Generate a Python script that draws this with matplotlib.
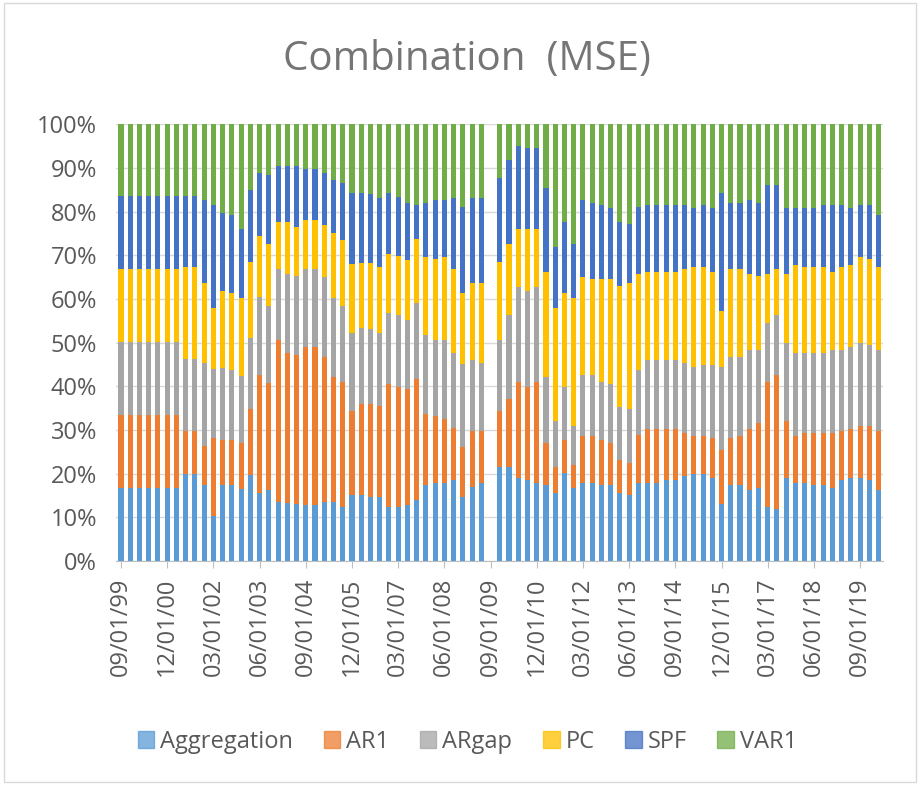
import numpy as np
import matplotlib
matplotlib.use("Agg")
import matplotlib.pyplot as plt
from matplotlib.patches import Rectangle, Patch

plt.rcParams['font.family'] = ['Open Sans', 'DejaVu Sans']

# Trimestres: 09/1999 ... 03/2020 (83 barras); 09/01/09 sin datos
fechas = [f"{m:02d}/01/{(a % 100):02d}"
          for a in range(1999, 2021) for m in (3, 6, 9, 12)][2:85]

etiquetas = ["09/01/99", "12/01/00", "03/01/02", "06/01/03", "09/01/04",
             "12/01/05", "03/01/07", "06/01/08", "09/01/09", "12/01/10",
             "03/01/12", "06/01/13", "09/01/14", "12/01/15", "03/01/17",
             "06/01/18", "09/01/19"]

series = ["Aggregation", "AR1", "ARgap", "PC", "SPF", "VAR1"]
colores = ["#5B9BD5", "#ED7D31", "#A5A5A5", "#FFC000", "#4472C4", "#70AD47"]

aggregation = [16.7, 16.7, 16.7, 16.7, 16.7, 16.7, 16.7, 20.0, 20.0, 17.3,
               10.2, 17.3, 17.3, 16.5, 19.7, 15.6, 16.2, 13.5, 13.2, 13.0,
               12.8, 12.8, 13.4, 13.4, 12.4, 15.1, 15.1, 14.7, 14.7, 12.4,
               12.4, 12.8, 13.9, 17.4, 17.9, 17.9, 18.5, 14.7, 16.9, 17.9,
               0.0, 21.4, 21.4, 19.1, 18.5, 17.9, 17.3, 15.6, 20.2, 16.8,
               17.9, 17.9, 17.3, 17.3, 15.6, 15.1, 17.9, 17.9, 17.9, 18.5,
               18.5, 19.5, 20.0, 20.0, 19.1, 13.0, 17.3, 17.3, 16.2, 16.8,
               12.4, 11.8, 19.1, 17.9, 17.9, 17.3, 17.3, 16.8, 18.5, 19.1,
               19.1, 18.5, 16.2]
ar1 = [16.7, 16.7, 16.7, 16.7, 16.7, 16.7, 16.7, 9.8, 9.8, 9.0,
       17.9, 10.3, 10.3, 10.6, 15.0, 27.0, 24.6, 37.0, 34.5, 34.2,
       36.2, 36.2, 33.3, 28.7, 28.6, 19.3, 20.9, 21.3, 20.8, 28.1,
       27.4, 26.5, 27.7, 16.3, 15.3, 14.7, 11.9, 11.3, 12.9, 11.9,
       0.0, 13.0, 15.8, 21.9, 21.3, 23.1, 9.8, 5.8, 7.4, 5.1,
       10.7, 10.7, 10.3, 9.8, 7.5, 7.4, 10.9, 12.4, 12.4, 11.8,
       11.8, 9.7, 8.6, 8.6, 9.0, 12.3, 10.8, 11.3, 14.1, 14.7,
       28.6, 30.9, 13.0, 10.7, 11.3, 11.9, 11.9, 12.4, 11.3, 11.2,
       11.8, 12.4, 13.6]
argap = [16.7, 16.7, 16.7, 16.7, 16.7, 16.7, 16.7, 16.4, 16.4, 19.1,
         15.8, 16.5, 16.1, 15.2, 16.4, 17.9, 17.6, 16.3, 18.1, 18.1,
         17.8, 17.8, 18.4, 18.2, 17.4, 17.9, 17.4, 17.1, 16.8, 16.2,
         16.5, 16.0, 17.4, 18.1, 17.3, 17.9, 17.3, 19.0, 16.2, 15.6,
         0.0, 16.1, 19.1, 21.8, 22.0, 21.8, 15.0, 10.7, 12.2, 9.0,
         14.1, 14.1, 13.4, 13.4, 12.2, 12.4, 14.9, 15.7, 15.7, 15.7,
         15.7, 16.2, 15.8, 16.3, 16.8, 19.1, 18.6, 18.1, 18.0, 16.8,
         13.6, 13.6, 17.9, 19.1, 18.5, 18.5, 18.5, 19.1, 18.5, 18.6,
         19.1, 18.5, 18.5]
pc = [16.7, 16.7, 16.7, 16.7, 16.7, 16.7, 16.7, 21.1, 21.1, 18.2,
      14.0, 17.7, 17.6, 17.9, 17.4, 13.9, 14.1, 10.8, 11.8, 11.2,
      11.3, 11.3, 11.8, 14.9, 15.1, 15.8, 14.8, 15.1, 15.1, 13.7,
      13.5, 13.6, 14.7, 17.8, 18.6, 19.1, 19.2, 16.3, 17.6, 18.2,
      0.0, 18.0, 16.2, 13.2, 14.2, 13.2, 24.2, 25.8, 21.5, 29.3,
      22.4, 21.8, 23.5, 24.0, 27.7, 28.7, 22.1, 20.3, 20.3, 20.3,
      20.3, 21.4, 22.9, 22.4, 21.4, 12.9, 20.1, 20.1, 17.5, 17.0,
      11.2, 10.6, 15.8, 20.2, 19.7, 19.7, 19.7, 18.0, 19.1, 19.0,
      19.6, 19.7, 19.1]
spf = [16.7, 16.7, 16.7, 16.7, 16.7, 16.7, 16.7, 16.3, 16.3, 19.0,
       23.6, 18.0, 17.9, 15.8, 16.4, 14.5, 15.9, 12.9, 12.9, 14.0,
       11.7, 11.7, 11.9, 12.0, 13.0, 16.3, 16.2, 15.8, 15.8, 14.0,
       13.6, 13.2, 7.8, 12.5, 13.5, 13.0, 16.3, 19.8, 19.6, 19.6,
       0.0, 19.3, 19.3, 19.0, 18.5, 18.5, 19.2, 14.1, 16.3, 12.3,
       17.5, 17.6, 17.0, 16.4, 14.6, 13.5, 15.3, 15.2, 15.2, 15.2,
       15.2, 14.7, 13.6, 14.2, 14.6, 27.1, 15.3, 15.3, 16.8, 16.8,
       20.3, 19.2, 15.1, 13.0, 13.5, 13.5, 14.1, 15.2, 14.1, 13.0,
       11.9, 12.4, 11.8]
var1 = [16.5, 16.5, 16.5, 16.5, 16.5, 16.5, 16.5, 16.4, 16.4, 17.4,
        18.5, 20.2, 20.8, 24.0, 15.1, 11.1, 11.6, 9.5, 9.5, 9.5,
        10.2, 10.2, 11.2, 12.8, 13.5, 15.6, 15.6, 16.0, 16.8, 15.6,
        16.6, 17.9, 18.5, 17.9, 17.4, 17.4, 16.8, 18.9, 16.8, 16.8,
        0.0, 12.2, 8.2, 5.0, 5.5, 5.5, 14.5, 28.0, 22.4, 27.5,
        17.4, 17.9, 18.5, 19.1, 22.4, 22.9, 18.9, 18.5, 18.5, 18.5,
        18.5, 18.5, 19.1, 18.5, 19.1, 15.6, 17.9, 17.9, 17.4, 17.9,
        13.9, 13.9, 19.1, 19.1, 19.1, 19.1, 18.5, 18.5, 18.5, 19.1,
        18.5, 18.5, 20.8]

datos = np.array([aggregation, ar1, argap, pc, spf, var1])
totales = datos.sum(axis=0)
totales[totales == 0] = 1
datos = datos / totales  # 100% apilado

x = np.arange(len(fechas))

fig = plt.figure(figsize=(9.2, 7.85), dpi=100)
ax = fig.add_axes([0.1265, 0.2855, 0.8335, 0.556])

abajo = np.zeros(len(fechas))
for nombre, col, fila in zip(series, colores, datos):
    ax.bar(x, fila, bottom=abajo, width=0.55, color=col, linewidth=0, label=nombre, zorder=3)
    abajo = abajo + fila

ax.set_xlim(-0.5, len(fechas) - 0.5)
ax.set_ylim(0, 1)
ax.set_yticks(np.arange(0, 1.01, 0.1))
ax.set_yticklabels([f"{int(round(v*100))}%" for v in np.arange(0, 1.01, 0.1)])
ax.yaxis.grid(True, color="#D9D9D9", linewidth=1, zorder=0)
ax.tick_params(axis='y', length=0, labelsize=17, labelcolor="#595959", pad=14)

pos = [fechas.index(e) for e in etiquetas]
ax.set_xticks(pos)
ax.set_xticklabels(etiquetas, rotation=90)
ax.tick_params(axis='x', length=5, color="#BFBFBF", labelsize=17, labelcolor="#595959", pad=7)

for lado in ['top', 'right', 'left']:
    ax.spines[lado].set_visible(False)
ax.spines['bottom'].set_color("#BFBFBF")

fig.text(0.508, 0.924, "Combination  (MSE)", ha='center', va='center', fontsize=29, color="#757575")

manijas = [Patch(facecolor=c, edgecolor=c, alpha=0.75) for c in colores]
fig.legend(manijas, series, loc='center', bbox_to_anchor=(0.508, 0.055), ncol=6,
           frameon=False, fontsize=17, labelcolor="#595959", handlelength=0.7,
           handleheight=0.7, handletextpad=0.25, columnspacing=1.3)

fig.patches.append(Rectangle((0.004, 0.004), 0.992, 0.992, transform=fig.transFigure,
                             fill=False, edgecolor="#D9D9D9", linewidth=1))

fig.savefig("out.png", dpi=100)
